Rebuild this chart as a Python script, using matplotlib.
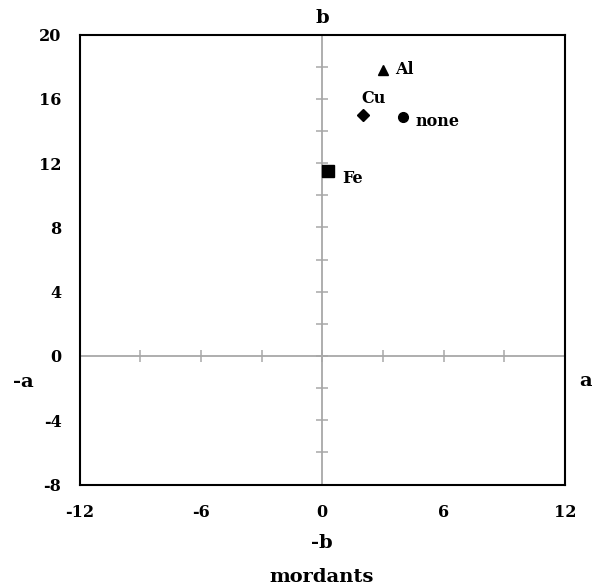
import matplotlib
matplotlib.use("Agg")
import matplotlib.pyplot as plt
import numpy as np

names = ["none", "Al", "Cu", "Fe"]
a_vals = [4.0, 3.0, 2.0, 0.3]
b_vals = [14.85, 17.8, 15.0, 11.5]
markers = ["o", "^", "D", "s"]
label_offsets = [(9, -3), (9, 0), (-1, 12), (10, -5)]

xticks = [-12, -6, 0, 6, 12]
yticks = [-8, -4, 0, 4, 8, 12, 16, 20]

plt.rcParams['font.family'] = ['DejaVu Serif']
plt.rcParams['font.weight'] = 'bold'
plt.rcParams['axes.unicode_minus'] = False

fig = plt.figure(figsize=(5.92, 5.86), dpi=100)
L, R, B, T = 79.5/592, 565/592, 1 - 484.5/586, 1 - 34.5/586
ax = fig.add_axes([L, B, R - L, T - B])
ax.set_xlim(-12, 12)
ax.set_ylim(-8, 20)
ax.set_xticks(xticks)
ax.set_yticks(yticks)
ax.tick_params(length=0, labelsize=11.5)
ax.tick_params(axis='y', pad=13)
ax.tick_params(axis='x', pad=14)
for lab in ax.get_xticklabels() + ax.get_yticklabels():
    lab.set_fontweight('bold')
for s in ax.spines.values():
    s.set_linewidth(1.5)

gray = '#a8a8a8'
ax.axhline(0, color=gray, lw=1.3, zorder=1)
ax.axvline(0, color=gray, lw=1.3, zorder=1)
xt = np.arange(-12, 13, 3)
ax.plot(xt, np.zeros_like(xt), ls='none', marker='|', ms=8, mew=1.1, color=gray, zorder=1)
yt = np.arange(-8, 21, 2)
ax.plot(np.zeros_like(yt), yt, ls='none', marker='_', ms=8, mew=1.1, color=gray, zorder=1)

sizes = {"o": 7, "^": 7.5, "D": 6.5, "s": 8}
for n, a, b, m, off in zip(names, a_vals, b_vals, markers, label_offsets):
    ax.plot(a, b, marker=m, color='black', ms=sizes[m], ls='none', zorder=3)
    ax.annotate(n, (a, b), xytext=off, textcoords='offset points', ha='left', va='center',
                fontsize=11.5, fontweight='bold')

fig.text(322/592, 1 - 18/586, 'b', ha='center', va='center', fontsize=14, fontweight='bold')
fig.text(322/592, 1 - 543/586, '-b', ha='center', va='center', fontsize=14, fontweight='bold')
fig.text(322/592, 1 - 577/586, 'mordants', ha='center', va='center', fontsize=14, fontweight='bold')
fig.text(23/592, 1 - 382/586, '-a', ha='center', va='center', fontsize=14, fontweight='bold')
fig.text(586/592, 1 - 381/586, 'a', ha='center', va='center', fontsize=14, fontweight='bold')

fig.savefig('out.png', dpi=100)
